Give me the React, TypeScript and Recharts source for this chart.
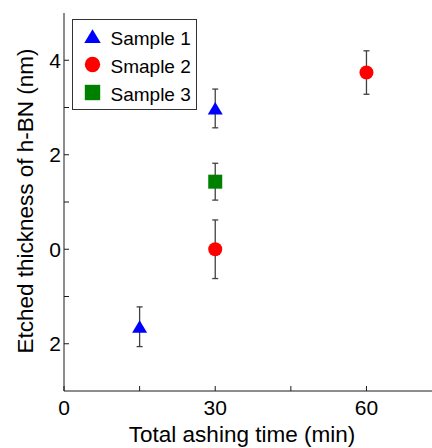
import React from 'react';
import { ScatterChart, Scatter, XAxis, YAxis, ErrorBar, Legend } from 'recharts';

const seriesNames = ['Sample 1', 'Smaple 2', 'Sample 3'];
const seriesColors = ['#0000ff', '#ff0000', '#008000'];
const seriesShapes = ['triangle', 'circle', 'square'];

const sample1Time = [15, 30];
const sample1Thick = [-1.64, 2.98];
const sample1Err = [0.42, 0.41];

const sample2Time = [30, 60];
const sample2Thick = [0.0, 3.74];
const sample2Err = [0.62, 0.46];

const sample3Time = [30];
const sample3Thick = [1.43];
const sample3Err = [0.39];

const xTicks = [0, 15, 30, 45, 60];
const xLabelTicks = [0, 30, 60];
const yTicks = [-2, -1, 0, 1, 2, 3, 4];
const yLabelTicks = [-2, 0, 2, 4];

const toPoints = (t: number[], v: number[], e: number[]) =>
  t.map((x, i) => ({ x, y: v[i], err: e[i] }));

const series = [
  toPoints(sample1Time, sample1Thick, sample1Err),
  toPoints(sample2Time, sample2Thick, sample2Err),
  toPoints(sample3Time, sample3Thick, sample3Err),
];

const axisColor = '#1a1a1a';
const font = '"Liberation Sans", Arial, sans-serif';

const MarkerShape = ({ cx, cy, kind, color, s = 1 }: any) => {
  if (kind === 'triangle') {
    const pts = `${cx},${cy - 6.5 * s} ${cx - 7.5 * s},${cy + 6 * s} ${cx + 7.5 * s},${cy + 6 * s}`;
    return <polygon points={pts} fill={color} />;
  }
  if (kind === 'circle') return <circle cx={cx} cy={cy} r={7 * s} fill={color} />;
  return <rect x={cx - 7 * s} y={cy - 7 * s} width={14 * s} height={14 * s} fill={color} />;
};

const BottomTick = (props: any) => {
  const { x, y, payload } = props;
  const v = payload.value;
  return (
    <g>
      <line x1={x} x2={x} y1={y} y2={y - 5} stroke={axisColor} />
      {xLabelTicks.includes(v) && (
        <text x={x} y={y + 24} textAnchor="middle" fontSize={21} fill="#000" fontFamily={font}>
          {v}
        </text>
      )}
    </g>
  );
};

const TopTick = (props: any) => {
  const { x, y } = props;
  return <line x1={x} x2={x} y1={y} y2={y + 5} stroke={axisColor} />;
};

const LeftTick = (props: any) => {
  const { x, y, payload } = props;
  const v = payload.value;
  return (
    <g>
      <line x1={x} x2={x + 5} y1={y} y2={y} stroke={axisColor} />
      {yLabelTicks.includes(v) && (
        <text x={x - 3} y={y + 7.5} textAnchor="end" fontSize={21} fill="#000" fontFamily={font}>
          {Math.abs(v)}
        </text>
      )}
    </g>
  );
};

const XTitle = () => (
  <text x={242} y={442} textAnchor="middle" fontSize={22.5} fill="#000" fontFamily={font}>
    Total ashing time (min)
  </text>
);

const YTitle = () => (
  <text
    x={33}
    y={201}
    textAnchor="middle"
    fontSize={22.5}
    fill="#000"
    fontFamily={font}
    transform="rotate(-90, 33, 201)"
  >
    Etched thickness of h-BN (nm)
  </text>
);

const LegendBox = () => (
  <svg width={126} height={92} style={{ display: 'block' }}>
    <rect x={0.5} y={0.5} width={124} height={90} fill="#fff" stroke="#333" />
    {seriesNames.map((name, i) => (
      <g key={name}>
        <MarkerShape cx={20.5} cy={17.5 + i * 28} kind={seriesShapes[i]} color={seriesColors[i]} s={1.1} />
        <text x={38.5} y={26 + i * 28} fontSize={19} fill="#000" fontFamily={font}>
          {name}
        </text>
      </g>
    ))}
  </svg>
);

export default function App() {
  return (
    <div style={{ position: 'absolute', left: 0, top: 0, background: '#fff', fontFamily: font }}>
      <ScatterChart width={432} height={448} margin={{ top: 13, right: 0, bottom: 0, left: 0 }}>
        <XAxis
          xAxisId="bottom"
          type="number"
          dataKey="x"
          domain={[0, 73]}
          ticks={xTicks}
          interval={0}
          height={57}
          tickSize={0}
          tickMargin={0}
          tickLine={false}
          tick={<BottomTick />}
          axisLine={{ stroke: axisColor }}
          label={<XTitle />}
        />
        <XAxis
          xAxisId="top"
          orientation="top"
          type="number"
          dataKey="x"
          domain={[0, 73]}
          ticks={xTicks}
          interval={0}
          height={0}
          tickSize={0}
          tickMargin={0}
          tickLine={false}
          tick={<TopTick />}
          axisLine={{ stroke: axisColor }}
        />
        <YAxis
          type="number"
          dataKey="y"
          domain={[-3, 5]}
          ticks={yTicks}
          interval={0}
          width={64}
          tickSize={0}
          tickMargin={0}
          tickLine={false}
          tick={<LeftTick />}
          axisLine={{ stroke: axisColor }}
          label={<YTitle />}
        />
        <Legend
          layout="vertical"
          align="center"
          verticalAlign="middle"
          content={<LegendBox />}
          wrapperStyle={{ position: 'absolute', left: 72, top: 19, width: 126, height: 92 }}
        />
        {series.map((data, i) => (
          <Scatter
            key={seriesNames[i]}
            name={seriesNames[i]}
            xAxisId="bottom"
            data={data}
            isAnimationActive={false}
            shape={(p: any) => (
              <MarkerShape cx={p.cx} cy={p.cy} kind={seriesShapes[i]} color={seriesColors[i]} />
            )}
          >
            <ErrorBar dataKey="err" direction="y" width={3} stroke="#404040" strokeWidth={1.3} isAnimationActive={false} />
          </Scatter>
        ))}
      </ScatterChart>
    </div>
  );
}
